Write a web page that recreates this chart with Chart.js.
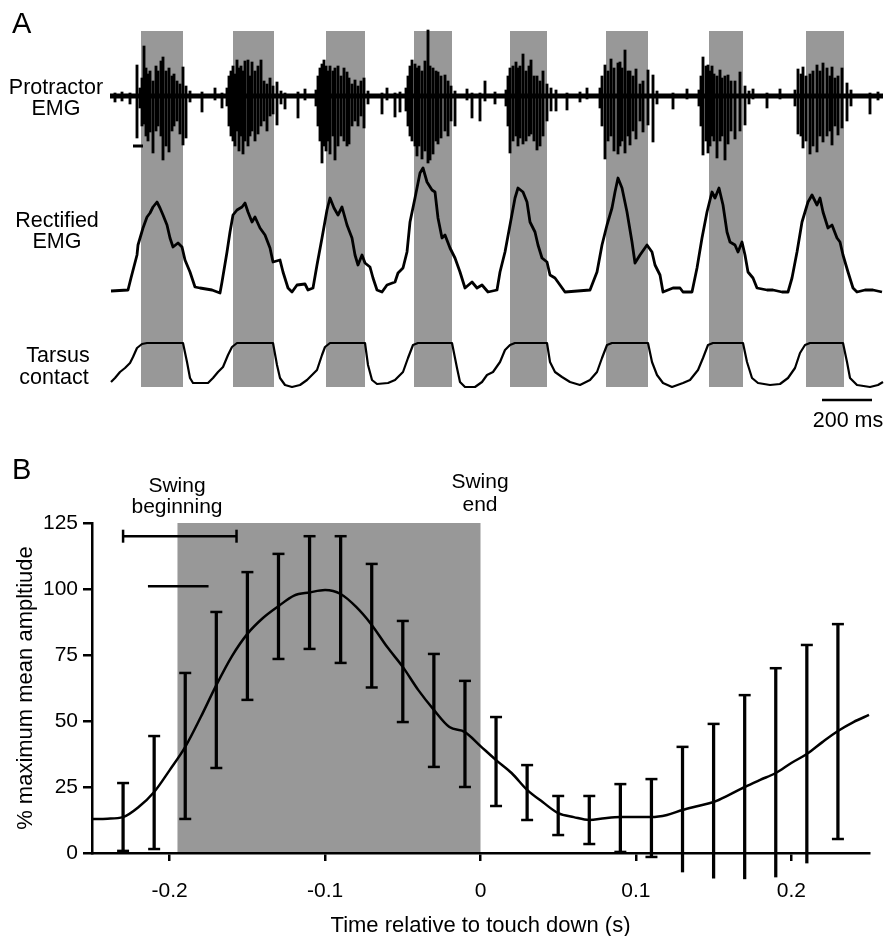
<!DOCTYPE html>
<html>
<head>
<meta charset="utf-8">
<script src="https://cdn.jsdelivr.net/npm/chart.js@4.4.1/dist/chart.umd.min.js"></script>
<style>
  html, body { margin: 0; padding: 0; background: #fff; }
  #wrap { position: relative; width: 886px; height: 936px; }
  canvas { position: absolute; left: 0; }
  #chartA { top: 0; }
  #chartB { top: 440px; }
</style>
</head>
<body>
<div id="wrap">
  <canvas id="chartA" width="886" height="440"></canvas>
  <canvas id="chartB" width="886" height="496"></canvas>
</div>
<script>
// ---------- Panel A: raw recording (time in ms) ----------
const recordingSpan = [0, 3092];
// swing phases (grey bands), start/end in ms
const swingBandsA = [[124, 292], [492, 656], [864, 1020], [1216, 1368],
                     [1600, 1748], [1984, 2152], [2396, 2532], [2784, 2936]];

// protractor EMG: spike times with upper and lower excursion (a.u.)
const emgT = [
  20, 48, 80,
  108, 120, 128, 136, 144, 152, 160, 172, 184, 192, 204, 212, 224, 236, 248, 256, 268, 280, 292, 304, 320,
  368, 420, 448,
  468, 476, 484, 492, 500, 508, 516, 524, 532, 540, 552, 560, 568, 580, 592, 604, 616, 628, 640, 652, 668, 684,
  700, 752, 780,
  824, 832, 840, 848, 856, 864, 872, 880, 892, 900, 912, 924, 936, 948, 956, 968, 980, 992, 1004, 1016, 1032,
  1088, 1108, 1140, 1160,
  1184, 1192, 1200, 1208, 1220, 1228, 1236, 1248, 1260, 1272, 1280, 1292, 1304, 1312, 1324, 1340, 1352, 1364, 1380,
  1428, 1448, 1480, 1500, 1540,
  1584, 1592, 1600, 1612, 1624, 1632, 1640, 1652, 1664, 1676, 1684, 1696, 1708, 1720, 1732, 1748, 1764, 1784,
  1828, 1880, 1908,
  1960, 1968, 1980, 1992, 2004, 2016, 2032, 2040, 2048, 2060, 2072, 2080, 2092, 2104, 2120, 2132, 2152, 2172, 2188,
  2252, 2308,
  2356, 2364, 2372, 2384, 2392, 2400, 2408, 2416, 2428, 2440, 2448, 2460, 2472, 2484, 2500, 2520, 2540, 2556,
  2572, 2628, 2680,
  2740, 2752, 2764, 2772, 2784, 2800, 2812, 2828, 2840, 2852, 2868, 2880, 2888, 2900, 2912, 2928, 2948, 2964,
  3040, 3072
];
const emgHi = [
  3, 4, 3,
  31, 8, 18, 50, 28, 22, 25, 15, 30, 25, 35, 39, 25, 28, 20, 22, 15, 12, 29, 10, 5,
  4, 8, 3,
  8, 20, 25, 30, 22, 36, 28, 30, 25, 35, 36, 20, 34, 25, 30, 36, 15, 12, 18, 10, 14, 5,
  3, 4, 7,
  6, 20, 28, 32, 36, 30, 25, 30, 25, 28, 30, 20, 28, 24, 18, 12, 16, 10, 15, 18, 5,
  3, 8, 3, 4,
  8, 20, 30, 36, 32, 28, 30, 25, 35, 66, 30, 28, 25, 24, 20, 21, 15, 10, 5,
  7, 3, 3, 15, 4,
  6, 20, 28, 30, 34, 28, 30, 42, 25, 30, 36, 20, 20, 15, 25, 12, 8, 6,
  3, 4, 8,
  8, 20, 31, 25, 37, 28, 33, 34, 28, 46, 25, 25, 20, 27, 12, 15, 26, 21, 5,
  3, 7,
  6, 20, 39, 30, 31, 25, 30, 22, 20, 26, 18, 20, 21, 15, 15, 24, 10, 5,
  7, 3, 7,
  6, 27, 22, 29, 20, 22, 25, 31, 25, 33, 28, 20, 29, 18, 20, 28, 13, 6,
  3, 4
];
const emgLo = [
  -6, -5, -8,
  -42, -12, -30, -28, -40, -45, -36, -57, -35, -30, -40, -64, -50, -56, -35, -30, -25, -38, -49, -42, -6,
  -16, -4, -12,
  -10, -30, -40, -45, -50, -35, -55, -40, -58, -45, -50, -40, -35, -45, -38, -30, -25, -35, -20, -18, -29, -8,
  -13, -22, -4,
  -10, -30, -45, -67, -50, -55, -45, -58, -40, -64, -50, -40, -45, -50, -48, -30, -25, -30, -20, -32, -8,
  -18, -4, -21, -16,
  -15, -30, -40, -45, -50, -60, -50, -63, -55, -67, -64, -58, -45, -48, -42, -35, -40, -25, -30,
  -4, -22, -25, -5, -8,
  -10, -30, -57, -45, -40, -50, -42, -48, -45, -40, -38, -45, -54, -50, -40, -25, -15, -15,
  -14, -6, -3,
  -12, -30, -63, -45, -40, -55, -58, -50, -45, -57, -40, -49, -35, -43, -25, -36, -29, -46, -8,
  -13, -3,
  -10, -30, -59, -45, -57, -50, -40, -45, -62, -45, -40, -64, -48, -35, -43, -35, -29, -8,
  -3, -12, -3,
  -10, -38, -40, -52, -45, -58, -50, -56, -40, -46, -40, -35, -49, -30, -39, -32, -25, -10,
  -18, -4
];

// rectified EMG (a.u.)
const rectT = [4, 72, 84, 108, 112, 132, 148, 160, 172, 188, 200, 212, 228, 240, 252, 272, 288, 300, 320, 340,
  360, 408, 440, 448, 468, 480, 492, 508, 528, 540, 552, 568, 580, 600, 620, 640, 652, 680, 692, 712,
  728, 748, 780, 792, 812, 828, 848, 868, 880, 896, 912, 928, 948, 968, 980, 992, 1008, 1020, 1040, 1052,
  1068, 1088, 1108, 1140, 1152, 1172, 1188, 1200, 1220, 1240, 1252, 1268, 1288, 1300, 1312, 1328, 1340, 1360, 1380, 1400,
  1420, 1448, 1468, 1488, 1512, 1548, 1560, 1580, 1600, 1620, 1632, 1652, 1668, 1680, 1700, 1712, 1728, 1748, 1760, 1780,
  1800, 1820, 1920, 1948, 1968, 1988, 2008, 2020, 2032, 2048, 2068, 2088, 2100, 2120, 2148, 2168, 2180, 2200, 2212, 2252,
  2280, 2292, 2328, 2348, 2368, 2388, 2408, 2420, 2436, 2452, 2468, 2480, 2500, 2512, 2528, 2540, 2552, 2572, 2588, 2628,
  2652, 2688, 2712, 2728, 2748, 2768, 2792, 2808, 2828, 2840, 2852, 2872, 2888, 2908, 2920, 2932, 2952, 2972, 2988, 3020,
  3052, 3088];
const rectV = [1, 2, 14, 37, 47, 64, 75, 79, 85, 90, 84, 77, 67, 54, 45, 49, 45, 32, 20, 5,
  4, 2, -1, 10, 40, 60, 77, 82, 85, 89, 80, 70, 75, 64, 57, 44, 30, 32, 20, 4,
  0, 7, 8, 2, 4, 27, 54, 82, 94, 84, 77, 85, 67, 54, 37, 27, 37, 29, 25, 14,
  2, 0, 7, 10, 19, 24, 40, 70, 94, 119, 124, 110, 102, 100, 74, 54, 57, 44, 34, 20,
  4, 10, 4, 7, 0, 2, 20, 40, 67, 94, 104, 100, 90, 70, 60, 47, 34, 30, 17, 14,
  7, 0, 2, 20, 47, 67, 84, 100, 114, 104, 80, 50, 29, 37, 47, 40, 27, 17, 0, 4,
  4, 0, 0, 24, 54, 80, 100, 94, 104, 87, 60, 50, 47, 40, 50, 37, 20, 14, 4, 2,
  2, 0, 0, 14, 40, 70, 90, 97, 87, 94, 80, 64, 67, 54, 50, 37, 20, 4, 0, 2,
  2, 0];

// tarsus contact (a.u.)
const tarsusT = [4, 20, 40, 60, 80, 92, 108, 128, 148, 292, 308, 320, 332, 392, 412, 432, 452, 472, 488, 508,
  652, 668, 680, 700, 728, 760, 788, 808, 828, 848, 860, 880, 1020, 1032, 1048, 1068, 1112, 1140, 1160, 1172,
  1192, 1212, 1232, 1368, 1388, 1400, 1420, 1460, 1488, 1508, 1532, 1560, 1580, 1600, 1620, 1748, 1760, 1780, 1808, 1840,
  1880, 1920, 1948, 1968, 1988, 2008, 2152, 2168, 2188, 2212, 2248, 2292, 2320, 2352, 2372, 2392, 2412, 2532, 2548, 2568,
  2592, 2640, 2680, 2712, 2740, 2760, 2780, 2800, 2932, 2948, 2960, 2988, 3040, 3072, 3092];
const tarsusV = [5, 9, 15, 19, 24, 30, 39, 43, 44, 44, 25, 9, 4, 4, 9, 15, 20, 32, 40, 44,
  44, 22, 9, 2, 0, 2, 7, 12, 17, 32, 40, 44, 44, 22, 7, 3, 4, 7, 12, 15,
  29, 42, 44, 44, 19, 5, 0, 0, 5, 12, 15, 25, 37, 42, 44, 44, 25, 15, 10, 5,
  2, 7, 15, 29, 42, 44, 44, 25, 12, 4, 0, 4, 7, 17, 29, 42, 44, 44, 25, 9,
  4, 2, 3, 9, 19, 34, 42, 44, 44, 25, 9, 2, 0, 2, 5];

// scale bars
const timeScaleBar = [2848, 3048];   // 200 ms
const timeScaleLevel = -13;          // on tarsus axis
const emgScaleBar = [92, 132];
const emgScaleLevel = -50;

// ---------- Panel B: averaged amplitude ----------
const meanX = [-0.25, -0.24, -0.23, -0.22, -0.21, -0.20, -0.19, -0.18, -0.17, -0.16, -0.15, -0.14, -0.13,
  -0.12, -0.11, -0.10, -0.09, -0.08, -0.07, -0.06, -0.05, -0.04, -0.03, -0.02, -0.01, 0,
  0.01, 0.02, 0.03, 0.04, 0.05, 0.06, 0.07, 0.08, 0.09, 0.10, 0.11, 0.12, 0.13,
  0.14, 0.15, 0.16, 0.17, 0.18, 0.19, 0.20, 0.21, 0.22, 0.23, 0.24, 0.25];
const meanY = [12.9, 13.0, 13.6, 17.4, 23.1, 31.4, 40.2, 51.5, 63.6, 74.5, 83.0, 89.0, 93.5,
  97.5, 98.7, 99.6, 98.1, 93.2, 86.4, 78.0, 70.5, 61.7, 54.2, 47.7, 45.8, 40.5,
  35.2, 30.3, 23.9, 19.3, 15.1, 13.6, 12.5, 13.2, 13.6, 13.6, 13.6, 14.4, 16.3,
  17.8, 19.3, 22.0, 25.0, 27.7, 30.3, 34.1, 37.5, 42.0, 46.2, 49.6, 52.3];

const barX = [-0.23, -0.21, -0.19, -0.17, -0.15, -0.13, -0.11, -0.09, -0.07, -0.05, -0.03, -0.01,
  0.01, 0.03, 0.05, 0.07, 0.09, 0.11, 0.13, 0.15, 0.17, 0.19, 0.21, 0.23];
const barTop = [26.5, 44.3, 68.2, 91.3, 106.4, 113.3, 120, 120, 109.5, 87.9, 75.4, 65.2,
  51.5, 33.3, 21.6, 21.6, 26.1, 28, 40.2, 48.9, 59.8, 70, 78.8, 86.7];
const barBottom = [0.8, 1.5, 12.9, 32.2, 58, 73.5, 77.3, 72, 62.7, 49.6, 32.6, 25,
  17.8, 12.5, 6.8, 3.4, 0.4, -1.5, -7.2, -9.5, -9.8, -9.1, -3.8, 5.3];

const swingWindowB = [[-0.195, 0]];
const swingBeginRange = [-0.23, -0.157];
const swingBeginLevel = 120;
const swingBeginLine = [-0.214, -0.175];
const swingBeginLineLevel = 101;

const xTickValues = [-0.2, -0.1, 0, 0.1, 0.2];
const yTickValues = [0, 25, 50, 75, 100, 125];

// ---------- drawing ----------
const FONT = "'Liberation Sans', Arial, sans-serif";
Chart.defaults.font.family = FONT;
Chart.defaults.color = '#000';
const grey = '#989898';

function bandPlugin(bands) {
  return {
    id: 'bands',
    beforeDraw(chart) {
      const { ctx, chartArea, scales: { x } } = chart;
      ctx.save();
      ctx.fillStyle = grey;
      bands.forEach(([a, b]) => {
        const x0 = x.getPixelForValue(a), x1 = x.getPixelForValue(b);
        ctx.fillRect(x0, chartArea.top, x1 - x0, chartArea.bottom - chartArea.top);
      });
      ctx.restore();
    }
  };
}

function textPlugin(items) {
  return {
    id: 'texts',
    afterDraw(chart) {
      const ctx = chart.ctx;
      ctx.save();
      ctx.fillStyle = '#000';
      ctx.textBaseline = 'alphabetic';
      items.forEach(it => {
        ctx.font = (it.size || 21) + 'px ' + FONT;
        ctx.textAlign = it.align || 'center';
        ctx.fillText(it.text, it.x, it.y);
      });
      ctx.restore();
    }
  };
}

const pts = (xs, ys) => xs.map((x, i) => ({ x, y: ys[i] }));
const level = (xs, y) => xs.map(x => ({ x, y }));

const lineBase = { borderColor: '#000', pointRadius: 0, borderJoinStyle: 'round', clip: false, tension: 0 };

// three traces share the chart area; each axis range puts its trace in its own strip
new Chart(document.getElementById('chartA'), {
  type: 'line',
  data: {
    datasets: [
      { ...lineBase, data: level(recordingSpan, 0), yAxisID: 'yEmg', borderWidth: 5 },
      { type: 'bar', data: emgT.map((t, i) => ({ x: t, y: [emgLo[i], emgHi[i]] })), yAxisID: 'yEmg',
        backgroundColor: '#000', barThickness: 2.2, clip: false },
      { ...lineBase, data: level(emgScaleBar, emgScaleLevel), yAxisID: 'yEmg', borderWidth: 3 },
      { ...lineBase, data: pts(rectT, rectV), yAxisID: 'yRect', borderWidth: 2.8 },
      { ...lineBase, data: pts(tarsusT, tarsusV), yAxisID: 'yTarsus', borderWidth: 2.2 },
      { ...lineBase, data: level(timeScaleBar, timeScaleLevel), yAxisID: 'yTarsus', borderWidth: 2.5 }
    ]
  },
  options: {
    responsive: false,
    animation: false,
    events: [],
    layout: { padding: { left: 110, right: 3, top: 31, bottom: 53 } },
    plugins: { legend: { display: false }, tooltip: { enabled: false } },
    scales: {
      x: { type: 'linear', min: recordingSpan[0], max: recordingSpan[1], display: false, offset: false },
      yEmg: { type: 'linear', axis: 'y', display: false, min: -291, max: 65 },
      yRect: { type: 'linear', axis: 'y', display: false, min: -95, max: 261 },
      yTarsus: { type: 'linear', axis: 'y', display: false, min: 0, max: 356 }
    }
  },
  plugins: [
    bandPlugin(swingBandsA),
    textPlugin([
      { text: 'A', x: 12, y: 33, size: 29, align: 'left' },
      { text: 'Protractor', x: 56, y: 94, size: 21.5 },
      { text: 'EMG', x: 56, y: 115, size: 21.5 },
      { text: 'Rectified', x: 57, y: 227, size: 21.5 },
      { text: 'EMG', x: 57, y: 248, size: 21.5 },
      { text: 'Tarsus', x: 58, y: 362, size: 21.5 },
      { text: 'contact', x: 54, y: 384, size: 21.5 },
      { text: '200 ms', x: 848, y: 427, size: 21.5 }
    ])
  ]
});

const axisStyle = {
  border: { display: true, color: '#000', width: 2.5 },
  grid: { drawOnChartArea: false, drawTicks: true, color: '#000', lineWidth: 2.5, offset: false }
};

new Chart(document.getElementById('chartB'), {
  type: 'line',
  data: {
    datasets: [
      { ...lineBase, data: pts(meanX, meanY), borderWidth: 2.5, cubicInterpolationMode: 'monotone' },
      { type: 'bar', data: barX.map((x, i) => ({ x, y: [barBottom[i], barTop[i]] })),
        backgroundColor: '#000', barThickness: 2.6, clip: false },
      { type: 'scatter', data: pts(barX, barTop).concat(pts(barX, barBottom)),
        pointStyle: 'line', pointRadius: 6, pointBorderColor: '#000', pointBorderWidth: 2.5,
        borderColor: '#000', clip: false },
      { ...lineBase, data: level(swingBeginRange, swingBeginLevel), borderWidth: 2.5,
        pointStyle: 'line', pointRotation: 90, pointRadius: 6.5, pointBorderColor: '#000', pointBorderWidth: 2.5 },
      { ...lineBase, data: level(swingBeginLine, swingBeginLineLevel), borderWidth: 2.5 }
    ]
  },
  options: {
    responsive: false,
    animation: false,
    events: [],
    layout: { padding: { left: 0, right: 17, top: 83, bottom: 0 } },
    plugins: { legend: { display: false }, tooltip: { enabled: false } },
    scales: {
      x: {
        type: 'linear', min: -0.25, max: 0.25, offset: false,
        ...axisStyle,
        grid: { ...axisStyle.grid, tickLength: 8 },
        ticks: { padding: 18, font: { size: 21 }, color: '#000', callback: v => String(v) },
        afterBuildTicks: ax => { ax.ticks = xTickValues.map(v => ({ value: v })); },
        afterFit: ax => { ax.height = 83; },
        title: { display: true, text: 'Time relative to touch down (s)', font: { size: 22 },
                 color: '#000', padding: { top: 0, bottom: -3 } }
      },
      y: {
        type: 'linear', min: 0, max: 125,
        ...axisStyle,
        grid: { ...axisStyle.grid, tickLength: 9 },
        ticks: { padding: 5, font: { size: 21 }, color: '#000' },
        afterBuildTicks: ax => { ax.ticks = yTickValues.map(v => ({ value: v })); },
        afterFit: ax => { ax.width = 92; },
        title: { display: true, text: '% maximum mean ampltiude', font: { size: 22 },
                 color: '#000', padding: { top: 13, bottom: 0 } }
      }
    }
  },
  plugins: [
    bandPlugin(swingWindowB),
    textPlugin([
      { text: 'B', x: 12, y: 39, size: 29, align: 'left' },
      { text: 'Swing', x: 177, y: 52 },
      { text: 'beginning', x: 177, y: 73 },
      { text: 'Swing', x: 480, y: 48 },
      { text: 'end', x: 480, y: 71 }
    ])
  ]
});
</script>
</body>
</html>
